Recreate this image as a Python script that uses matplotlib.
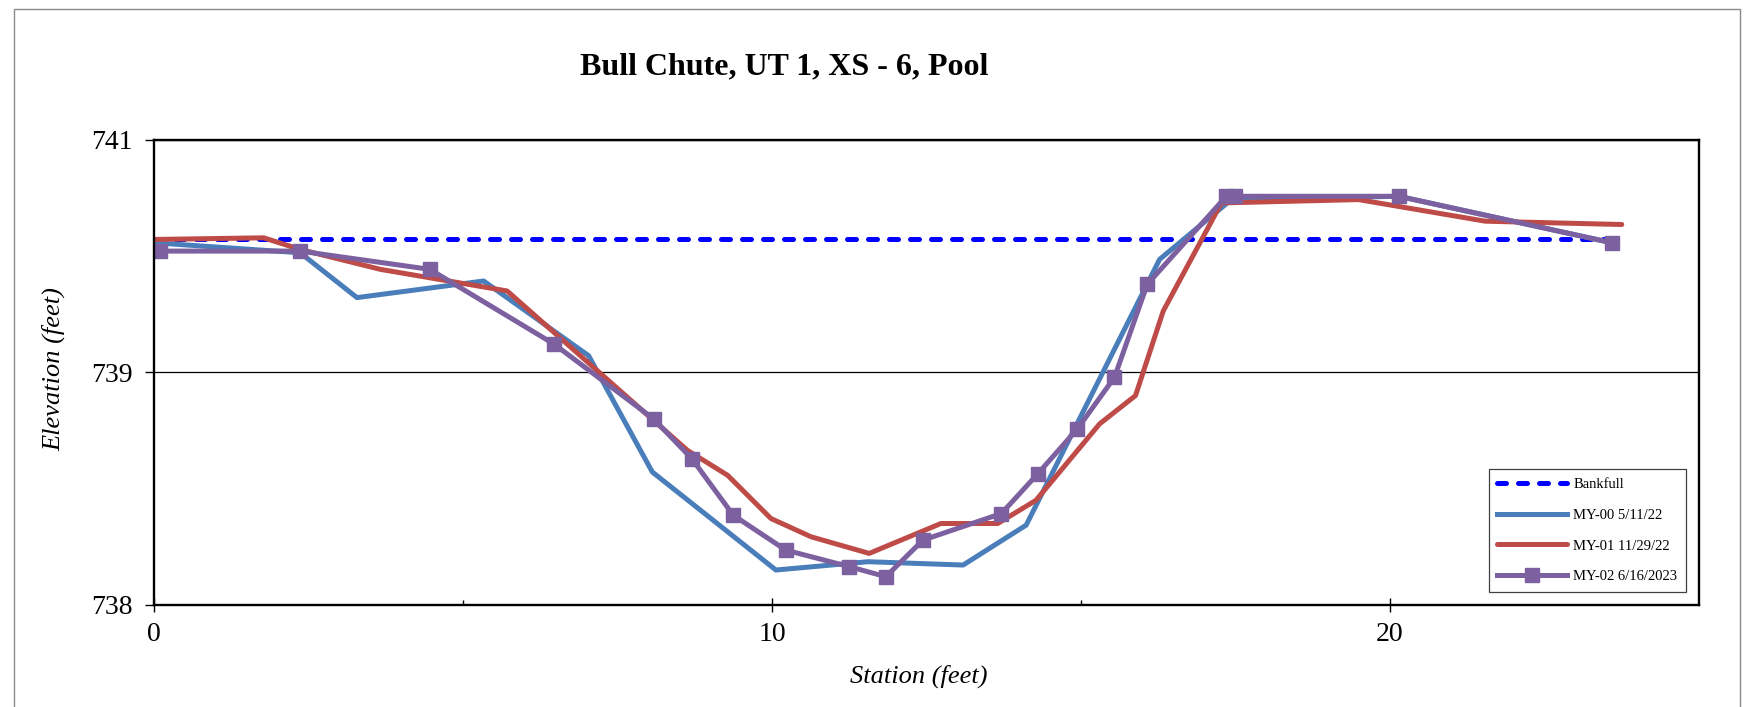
import matplotlib.pyplot as plt
from matplotlib.patches import Rectangle
from matplotlib.ticker import StrMethodFormatter, FixedLocator

plt.rcParams["font.family"] = ["Liberation Serif", "DejaVu Serif"]

title = "Bull Chute, UT 1, XS - 6, Pool"

# survey data: station (ft) vs elevation (ft)
bankfull_sta = [0.0, 23.59]
bankfull_elev = [740.20, 740.20]

my00_label = "MY-00 5/11/22"
my00_sta = [0.0, 2.36, 3.28, 5.33, 7.03, 8.06, 10.06, 11.55, 13.09, 14.11,
            16.27, 17.43, 20.14, 23.59]
my00_elev = [740.18, 740.12, 739.85, 739.95, 739.50, 738.80, 738.21, 738.26,
             738.24, 738.48, 740.08, 740.44, 740.46, 740.18]

my01_label = "MY-01 11/29/22"
my01_sta = [0.0, 1.77, 2.36, 3.66, 5.71, 8.63, 9.28, 9.98, 10.63, 11.57,
            12.73, 13.65, 14.27, 15.30, 15.88, 16.33, 17.27, 19.49, 21.54, 23.75]
my01_elev = [740.20, 740.21, 740.14, 740.02, 739.89, 738.93, 738.78, 738.52,
             738.41, 738.31, 738.49, 738.49, 738.63, 739.09, 739.26, 739.77,
             740.42, 740.44, 740.31, 740.29]

my02_label = "MY-02 6/16/2023"
my02_sta = [0.1, 2.36, 4.46, 6.47, 8.08, 8.70, 9.37, 10.22, 11.25, 11.84,
            12.44, 13.71, 14.30, 14.94, 15.54, 16.07, 17.35, 17.49, 20.14, 23.59]
my02_elev = [740.13, 740.13, 740.02, 739.57, 739.12, 738.88, 738.54, 738.33,
             738.23, 738.17, 738.39, 738.55, 738.79, 739.06, 739.37, 739.93,
             740.46, 740.46, 740.46, 740.18]

y_ticks = [738.0, 739.4, 740.8]
x_ticks = [0, 10, 20]
x_minor = [5, 15]

W, H = 1753, 707
fig = plt.figure(figsize=(W / 100, H / 100), dpi=100)

# grey frame around the whole chart
fig.patches.append(Rectangle((14 / W, -0.05), (1740 - 14) / W, 1 - 9 / H + 0.05,
                             transform=fig.transFigure, fill=False,
                             edgecolor="#8c8c8c", lw=1.0))

ax = fig.add_axes([154.3 / W, 1 - 604.9 / H, (1699 - 154.3) / W, (604.9 - 139.8) / H])

ax.plot(bankfull_sta, bankfull_elev, color="#0000FF", lw=3.6,
        linestyle=(0, (1.8, 2.4)), dash_capstyle="round", label="Bankfull")
ax.plot(my00_sta, my00_elev, color="#4A7EBB", lw=3.6, label=my00_label)
ax.plot(my01_sta, my01_elev, color="#BE4B48", lw=3.6, label=my01_label,
        solid_capstyle="round")
ax.plot(my02_sta, my02_elev, color="#7D60A0", lw=3.6, marker="s", ms=9.5,
        mec="#7D60A0", label=my02_label)

ax.set_xlim(0, 25)
ax.set_ylim(738.0, 740.8)
ax.set_xticks(x_ticks)
ax.xaxis.set_minor_locator(FixedLocator(x_minor))
ax.set_yticks(y_ticks)
ax.yaxis.set_major_formatter(StrMethodFormatter("{x:.0f}"))
ax.yaxis.grid(True, color="black", lw=0.9)
ax.set_axisbelow(True)

for s in ax.spines.values():
    s.set_linewidth(1.7)
ax.tick_params(axis="y", direction="out", length=6.5, width=1.0, pad=9, labelsize=20)
ax.tick_params(axis="x", which="major", direction="inout", length=10, width=1.0,
               pad=7, labelsize=20)
ax.tick_params(axis="x", which="minor", direction="in", length=3.5, width=1.0)

fig.text(784 / W, 1 - 67 / H, title, ha="center", va="center",
         fontsize=23, fontweight="bold")
fig.text(54 / W, 1 - 369 / H, "Elevation (feet)", rotation=90, ha="center",
         va="center", fontsize=19, style="italic")
fig.text(919 / W, 1 - 676 / H, "Station (feet)", ha="center", va="center",
         fontsize=19, style="italic")

leg = ax.legend(loc="lower right", bbox_to_anchor=(0.9916, 0.0277),
                borderaxespad=0, fontsize=10.5, handlelength=4.8,
                handletextpad=0.4, labelspacing=1.2, borderpad=0.6,
                fancybox=False, framealpha=1, edgecolor="#404040")
leg.get_frame().set_linewidth(0.9)

fig.savefig("out.png", dpi=100)
